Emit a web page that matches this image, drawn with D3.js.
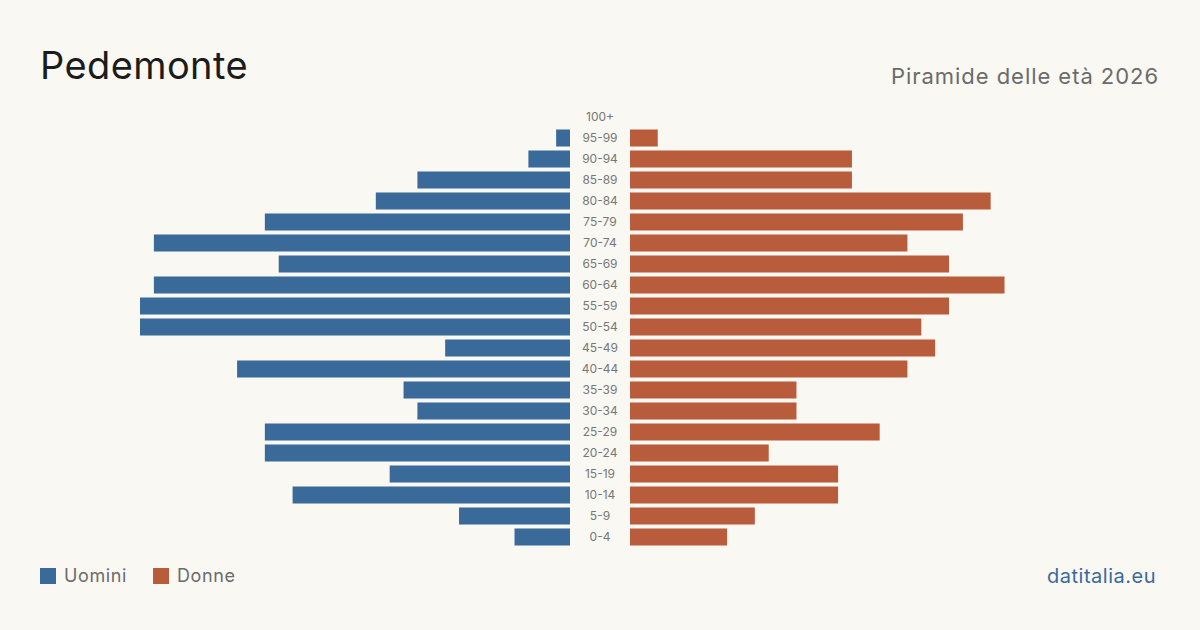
<!DOCTYPE html>
<html>
<head>
<meta charset="utf-8">
<script src="https://cdn.jsdelivr.net/npm/d3@7"></script>
<style>
  body { margin: 0; background: #f9f8f3; }
  svg { display: block; font-family: Inter, "Noto Sans", sans-serif; }
</style>
</head>
<body>
<div id="chart"></div>
<script>
// age classes, top to bottom
var ages = ["100+", "95-99", "90-94", "85-89", "80-84", "75-79", "70-74", "65-69",
	"60-64", "55-59", "50-54", "45-49", "40-44", "35-39", "30-34", "25-29",
	"20-24", "15-19", "10-14", "5-9", "0-4"];
var men   = [0, 1, 3, 11, 14, 22, 30, 21, 30, 31, 31, 9, 24, 12, 11, 22, 22, 13, 20, 8, 4];
var women = [0, 2, 16, 16, 26, 24, 20, 23, 27, 23, 21, 22, 20, 12, 12, 18, 10, 15, 15, 9, 7];

var width = 1200,
	height = 630,
	center = 600,
	gap = 30;

var svg = d3.select("#chart")
	.append("svg")
	.attr("width", width)
	.attr("height", height);

svg.append("rect")
	.attr("width", width)
	.attr("height", height)
	.attr("fill", "#f9f8f3");

var maxVal = d3.max(men.concat(women));

// half width of one side
var x = d3.scaleLinear()
	.domain([0, maxVal])
	.range([0, 430]);

var y = d3.scaleBand()
	.domain(ages)
	.range([106.5, 547.5])
	.paddingInner(0.19)
	.paddingOuter(0.095);

// men, to the left
svg.append("g")
	.selectAll("rect")
	.data(ages)
	.enter()
	.append("rect")
	.attr("x", function(d, i) { return center - gap - x(men[i]); })
	.attr("y", function(d) { return y(d); })
	.attr("width", function(d, i) { return x(men[i]); })
	.attr("height", y.bandwidth())
	.attr("fill", "#3a6a9a");

// women, to the right
svg.append("g")
	.selectAll("rect")
	.data(ages)
	.enter()
	.append("rect")
	.attr("x", center + gap)
	.attr("y", function(d) { return y(d); })
	.attr("width", function(d, i) { return x(women[i]); })
	.attr("height", y.bandwidth())
	.attr("fill", "#b95c3b");

// age labels
svg.append("g")
	.selectAll("text")
	.data(ages)
	.enter()
	.append("text")
	.attr("x", center)
	.attr("y", function(d) { return y(d) + y.bandwidth() / 2; })
	.attr("dy", "0.35em")
	.attr("text-anchor", "middle")
	.attr("font-size", 12)
	.attr("fill", "#777")
	.text(function(d) { return d; });

// titles
svg.append("text")
	.attr("x", 40)
	.attr("y", 79)
	.attr("font-size", 38)
	.attr("letter-spacing", 0.4)
	.attr("fill", "#1c1c1c")
	.text("Pedemonte");

svg.append("text")
	.attr("x", 1159)
	.attr("y", 84)
	.attr("text-anchor", "end")
	.attr("font-size", 22)
	.attr("letter-spacing", 0.95)
	.attr("fill", "#6b6b6b")
	.text("Piramide delle età 2026");

// legend
var legend = [{label: "Uomini", color: "#3a6a9a", x: 40}, {label: "Donne", color: "#b95c3b", x: 153}];
var lg = svg.append("g")
	.selectAll("g")
	.data(legend)
	.enter()
	.append("g")
	.attr("transform", function(d) { return "translate(" + d.x + ",568)"; });
lg.append("rect")
	.attr("width", 16)
	.attr("height", 16)
	.attr("fill", function(d) { return d.color; });
lg.append("text")
	.attr("x", 24)
	.attr("y", 8)
	.attr("dy", "0.35em")
	.attr("font-size", 18)
	.attr("letter-spacing", 0.6)
	.attr("fill", "#6b6b6b")
	.text(function(d) { return d.label; });

svg.append("text")
	.attr("x", 1156)
	.attr("y", 583)
	.attr("text-anchor", "end")
	.attr("font-size", 20)
	.attr("letter-spacing", 0.5)
	.attr("fill", "#3a6a9a")
	.text("datitalia.eu");
</script>
</body>
</html>
